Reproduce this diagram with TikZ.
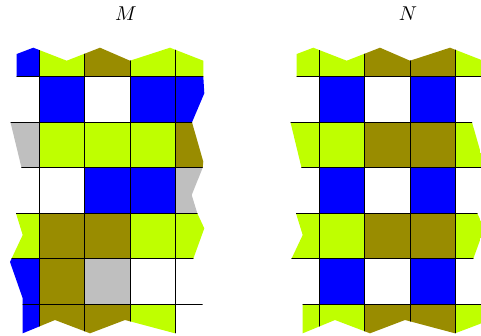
\documentclass[tikz,border=0pt]{standalone}
\definecolor{cb}{RGB}{0,0,255}
\definecolor{cy}{RGB}{191,255,0}
\definecolor{co}{RGB}{153,140,0}
\definecolor{cg}{RGB}{191,191,191}
\colorlet{cw}{white}

% ragged outline of one board (pixel-like units, y pointing down)
\newcommand\boardoutline{(16.7,54) -- (33.3,47.7) -- (66.7,60.7) -- (100,47.7) -- (130,60.7)
  -- (170,47.7) -- (203.3,60.7) -- (203.3,76.7) -- (204.3,93.3) -- (192,122.3) -- (203.3,161.7)
  -- (202.7,167.7) -- (191.7,195) -- (197.3,213.3) -- (204.3,228.3) -- (193.3,258.7)
  -- (203,300) -- (202.5,304) -- (205,322) -- (175,333.3) -- (125,320) -- (90,333.3)
  -- (55,320) -- (22.7,333.3) -- (22.7,298.3) -- (10,262) -- (11.5,258.7) -- (22.7,235)
  -- (16,213.3) -- (21.5,167.7) -- (10.5,122.3) -- (16.7,76.7) -- cycle}

% #1: horizontal offset, #2: cell colours row by row
\newcommand\drawboard[2]{%
  \begin{scope}[xshift=#1]
    \clip \boardoutline;
    \foreach \rowcols [count=\r from 0] in {#2} {
      \foreach \cc [count=\c from 0] in \rowcols {
        \fill[\cc] ({39.3+(\c-1)*45.4},{76.7+(\r-1)*45.45}) rectangle +(45.4,45.45);
      }
    }
    \foreach \c in {0,...,3}
      \draw[gridline] ({39.3+\c*45.4},0) -- ++(0,400);
    \foreach \r in {0,...,5}
      \draw[gridline] (0,{76.7+\r*45.45}) -- ++(230,0);
  \end{scope}}

\begin{document}
\begin{tikzpicture}[x=1pt,y=-1pt,
    gridline/.style={black,line width=0.9pt},
    boardlabel/.style={anchor=base,scale=2,inner sep=0pt}]
  \useasboundingbox (0,0) rectangle (481,335);

  \drawboard{0pt}{{cb,cy,co,cy,cy},{cw,cb,cw,cb,cb},{cg,cy,cy,cy,co},{cw,cw,cb,cb,cg},
                  {cy,co,co,cy,cy},{cb,co,cg,cw,cw},{cb,co,co,cy,cw}}
  \drawboard{280pt}{{cy,cy,co,co,cy},{cw,cb,cw,cb,cw},{cy,cy,co,co,cy},{cw,cb,cw,cb,cw},
                    {cy,cy,co,co,cy},{cw,cb,cw,cb,cw},{cy,cy,co,co,cy}}

  \node[boardlabel] (labM) at (126,20.7) {$M$};
  \node[boardlabel] (labN) at (408,20.7) {$N$};
\end{tikzpicture}
\end{document}
